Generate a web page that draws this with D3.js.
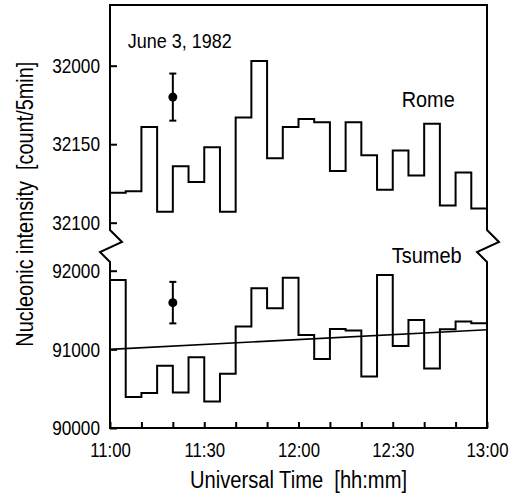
<!DOCTYPE html>
<html>
<head>
<meta charset="utf-8">
<script src="https://d3js.org/d3.v7.min.js"></script>
<style>
  body { margin: 0; background: #fff; }
  svg text { font-family: "Liberation Sans", Arial, sans-serif; fill: #000; white-space: pre; }
</style>
</head>
<body>
<div id="my_dataviz"></div>
<script>
// 5 minute bins, minutes after 11:00
const binMinutes = [0, 5, 10, 15, 20, 25, 30, 35, 40, 45, 50, 55, 60, 65, 70, 75, 80, 85, 90, 95, 100, 105, 110, 115];
const romeCounts = [32119, 32120, 32161, 32107, 32136, 32126, 32148, 32107, 32167, 32203, 32141, 32161, 32166, 32164, 32133, 32164, 32143, 32121, 32146, 32130, 32163, 32111, 32132, 32109];
const tsumebCounts = [91882, 90393, 90444, 90791, 90452, 90901, 90338, 90689, 91289, 91777, 91523, 91911, 91184, 90876, 91260, 91239, 90655, 91945, 91044, 91374, 90756, 91256, 91353, 91332];

// trend line through Tsumeb (start, end)
const trendMinutes = [0, 120];
const trendCounts = [91000, 91250];

// error bars: [minute, value, half error]
const romeErr = [20, 32180, 15];
const tsumebErr = [20, 91594, 264];

const xTicks = [0, 30, 60, 90, 120];
const xTickLabels = ["11:00", "11:30", "12:00", "12:30", "13:00"];
const xMinorTicks = [0, 10, 20, 30, 40, 50, 60, 70, 80, 90, 100, 110, 120];
const romeTicks = [32100, 32150, 32200];
const romeTickLabels = ["32100", "32150", "32000"];
const tsumebTicks = [90000, 91000, 92000];
const tsumebTickLabels = ["90000", "91000", "92000"];

const margin = {top: 5, right: 28, bottom: 69, left: 110},
    width = 515 - margin.left - margin.right,
    height = 497 - margin.top - margin.bottom;

const svg = d3.select("#my_dataviz")
  .append("svg")
    .attr("width", 515)
    .attr("height", 497)
  .append("g")
    .attr("transform", `translate(${margin.left}, ${margin.top})`);

const x = d3.scaleLinear().domain([0, 120]).range([0, width]);
const yRome = d3.scaleLinear().domain([32100, 32200]).range([217.7, 60.7]);
const yTsu = d3.scaleLinear().domain([90000, 92000]).range([height, 265.7]);

// the print uses a narrow face, squeeze the text sideways
function condense(g, k) {
  g.selectAll("text").each(function() {
    const t = d3.select(this);
    t.attr("x", (+t.attr("x") || 0) / k).attr("transform", `scale(${k},1)`);
  });
}

// frame with axis breaks
const breakTop = 225, breakBot = 257;
const frame = d3.path();
frame.moveTo(0, breakTop); frame.lineTo(0, 0); frame.lineTo(width, 0); frame.lineTo(width, breakTop);
frame.lineTo(width + 12, breakTop + 12); frame.lineTo(width - 10, breakTop + 22); frame.lineTo(width, breakBot);
frame.lineTo(width, height); frame.lineTo(0, height); frame.lineTo(0, breakBot);
frame.lineTo(-10, breakTop + 22); frame.lineTo(12, breakTop + 12); frame.closePath();
svg.append("path")
  .attr("d", frame.toString())
  .attr("fill", "none")
  .attr("stroke", "#000")
  .attr("stroke-width", 2)
  .attr("stroke-linejoin", "miter");

// x axis: minor inward ticks, labels on the half hours
svg.append("g")
  .attr("transform", `translate(0, ${height})`)
  .call(d3.axisBottom(x).tickValues(xMinorTicks).tickSize(-6).tickFormat(""))
  .call(g => g.select(".domain").remove())
  .call(g => g.selectAll("line").attr("stroke-width", 2));
svg.append("g")
  .attr("transform", `translate(0, ${height})`)
  .call(d3.axisBottom(x).tickValues(xTicks).tickSize(0).tickPadding(14)
    .tickFormat((d, i) => xTickLabels[i]))
  .call(g => g.select(".domain").remove())
  .call(g => g.selectAll("text").style("font-size", "21px"))
  .call(g => condense(g, 0.8));

// y axes
function yAxis(scale, ticks, labels) {
  return d3.axisLeft(scale).tickValues(ticks).tickSize(-7).tickPadding(10)
    .tickFormat((d, i) => labels[i]);
}
[[yRome, romeTicks, romeTickLabels], [yTsu, tsumebTicks, tsumebTickLabels]].forEach(a => {
  svg.append("g")
    .call(yAxis(a[0], a[1], a[2]))
    .call(g => g.select(".domain").remove())
    .call(g => g.selectAll("line").attr("stroke-width", 2))
    .call(g => g.selectAll("text").style("font-size", "21px"))
    .call(g => condense(g, 0.82));
});

// histograms
function steps(vals) {
  const pts = binMinutes.map((m, i) => [m, vals[i]]);
  pts.push([120, vals[vals.length - 1]]);
  return pts;
}
const lineRome = d3.line().x(d => x(d[0])).y(d => yRome(d[1])).curve(d3.curveStepAfter);
const lineTsu = d3.line().x(d => x(d[0])).y(d => yTsu(d[1])).curve(d3.curveStepAfter);

svg.append("path")
  .attr("d", lineRome(steps(romeCounts)))
  .attr("fill", "none").attr("stroke", "#000").attr("stroke-width", 2);
svg.append("path")
  .attr("d", lineTsu(steps(tsumebCounts)))
  .attr("fill", "none").attr("stroke", "#000").attr("stroke-width", 2);

// trend
svg.append("path")
  .attr("d", d3.line().x(d => x(d[0])).y(d => yTsu(d[1]))(trendMinutes.map((m, i) => [m, trendCounts[i]])))
  .attr("fill", "none").attr("stroke", "#000").attr("stroke-width", 1.6);

// error bars
[[yRome, romeErr], [yTsu, tsumebErr]].forEach(a => {
  const s = a[0], e = a[1];
  const cx = x(e[0]);
  const g = svg.append("g").attr("stroke", "#000").attr("stroke-width", 2);
  g.append("line").attr("x1", cx).attr("x2", cx).attr("y1", s(e[1] - e[2])).attr("y2", s(e[1] + e[2]));
  g.append("line").attr("x1", cx - 3.5).attr("x2", cx + 3.5).attr("y1", s(e[1] - e[2])).attr("y2", s(e[1] - e[2]));
  g.append("line").attr("x1", cx - 3.5).attr("x2", cx + 3.5).attr("y1", s(e[1] + e[2])).attr("y2", s(e[1] + e[2]));
  svg.append("circle").attr("cx", cx).attr("cy", s(e[1])).attr("r", 4.5).attr("fill", "#000");
});

// labels
svg.append("text").attr("x", 17.7).attr("y", 43.3).style("font-size", "20px")
  .attr("textLength", 104).attr("lengthAdjust", "spacingAndGlyphs").text("June 3, 1982");
svg.append("text").attr("x", 291.7).attr("y", 102).style("font-size", "22.5px")
  .attr("textLength", 53).attr("lengthAdjust", "spacingAndGlyphs").text("Rome");
svg.append("text").attr("x", 281.7).attr("y", 258).style("font-size", "22.5px")
  .attr("textLength", 70).attr("lengthAdjust", "spacingAndGlyphs").text("Tsumeb");

svg.append("text")
  .attr("x", 80)
  .attr("y", height + 60)
  .style("font-size", "23.5px")
  .attr("textLength", 217).attr("lengthAdjust", "spacingAndGlyphs")
  .text("Universal Time  [hh:mm]");

svg.append("text")
  .attr("transform", `translate(${33 - margin.left}, ${346.7 - margin.top}) rotate(-90)`)
  .style("font-size", "24px")
  .attr("textLength", 285).attr("lengthAdjust", "spacingAndGlyphs")
  .text("Nucleonic intensity  [count/5min]");
</script>
</body>
</html>
